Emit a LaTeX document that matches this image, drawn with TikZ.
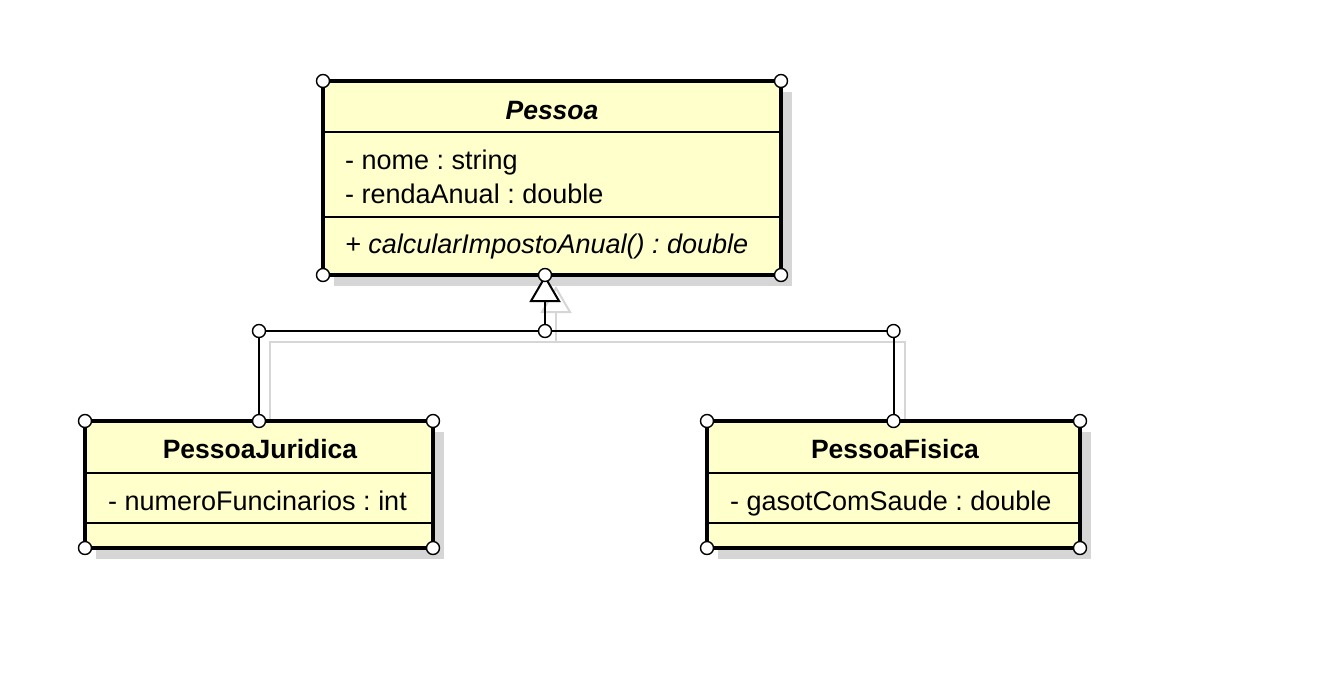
\documentclass[tikz,border=0pt]{standalone}
\usepackage{fontspec}
\setmainfont{Liberation Sans}
\usetikzlibrary{positioning,arrows.meta,backgrounds}
\frenchspacing

\definecolor{classfill}{HTML}{FFFFCC}
\definecolor{shadowgray}{HTML}{D6D6D6}

\tikzstyle{classbox}=[rectangle,draw,line width=3.8pt,fill=classfill,inner sep=0pt,outer sep=0pt,anchor=north west]
\tikzstyle{shadowbox}=[rectangle,fill=shadowgray,inner sep=0pt,outer sep=0pt,anchor=north west]
\tikzstyle{divider}=[draw,line width=1.3pt]
\tikzstyle{member}=[anchor=base west,inner sep=0pt,font=\fontsize{27}{30}\selectfont]
\tikzstyle{title}=[anchor=base,inner sep=0pt,font=\fontsize{26.5}{30}\selectfont\bfseries]
\tikzstyle{handle}=[circle,draw,fill=white,line width=1.4pt,minimum size=13pt,inner sep=0pt]
\tikzstyle{link}=[draw,line width=2pt]
\tikzstyle{inherit}=[link,-{Triangle[open,fill=white,length=27pt,width=31pt]}]

\begin{document}
\begin{tikzpicture}[x=1pt,y=-1pt]
\useasboundingbox (0,0) rectangle (1335,689);

% classes
\foreach \name/\x/\y/\w/\h in {Pessoa/323/81/458/194, Juridica/85/421/348/127,
                               Fisica/707/421/373/127}{
  \node[classbox,minimum width=\w pt,minimum height=\h pt] (\name) at (\x,\y) {};
}

\node[title,font=\fontsize{26.5}{30}\selectfont\bfseries\itshape] (Pessoa-name) at (552,119) {Pessoa};
\node[member] (Pessoa-nome) at (345,169) {- nome : string};
\node[member] (Pessoa-renda) at (345,203) {- rendaAnual : double};
\node[member,font=\fontsize{27}{30}\selectfont\itshape] (Pessoa-calc) at (345,253) {+ calcularImpostoAnual() : double};

\node[title] (Juridica-name) at (260,458) {PessoaJuridica};
\node[member] (Juridica-num) at (108,510) {- numeroFuncinarios : int};

\node[title] (Fisica-name) at (895,458) {PessoaFisica};
\node[member] (Fisica-gasto) at (730,510) {- gasotComSaude : double};

% compartment lines
\foreach \name/\y in {Pessoa/132, Pessoa/217, Juridica/473, Juridica/523,
                      Fisica/473, Fisica/523}{
  \path[divider] (\name.west |- 0,\y) -- (\name.east |- 0,\y);
}

% generalization
\coordinate (junction) at (545,331);
\coordinate (jl) at (Juridica.north |- junction);
\coordinate (jr) at (Fisica.north |- junction);
\path[link] (Juridica.north) -- (jl) -- (jr) -- (Fisica.north);
\path[inherit] (junction) -- (junction |- Pessoa.south);

% shadows
\begin{pgfonlayer}{background}
\path[link,shadowgray] ([shift={(11,11)}]Juridica.north) -- ([shift={(11,11)}]jl)
  -- ([shift={(11,11)}]jr) -- ([shift={(11,11)}]Fisica.north);
\path[inherit,shadowgray] ([shift={(11,11)}]junction) -- ([shift={(11,11)}]junction |- Pessoa.south);
\foreach \name/\x/\y/\w/\h in {Pessoa/323/81/458/194, Juridica/85/421/348/127,
                               Fisica/707/421/373/127}{
  \node[shadowbox,minimum width=\w pt,minimum height=\h pt] (\name-shadow) at (\x+11,\y+11) {};
}
\end{pgfonlayer}

% handles
\foreach \pt [count=\i] in {Pessoa.north west, Pessoa.north east, Pessoa.south west,
                 Pessoa.south east, Juridica.north west, Juridica.north east,
                 Juridica.south west, Juridica.south east, Fisica.north west,
                 Fisica.north east, Fisica.south west, Fisica.south east,
                 Juridica.north, Fisica.north, jl, jr, junction, junction |- Pessoa.south}{
  \node[handle] (handle\i) at (\pt) {};
}
\end{tikzpicture}
\end{document}
